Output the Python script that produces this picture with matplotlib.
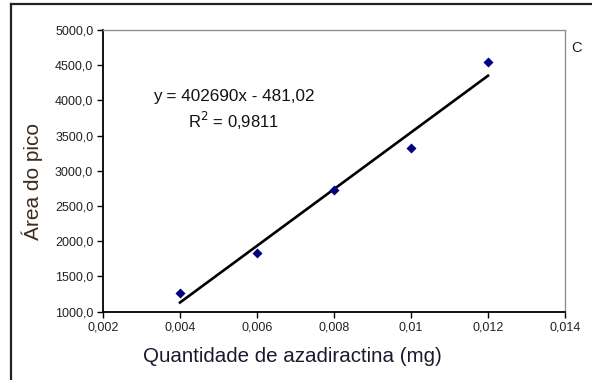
import matplotlib
matplotlib.use("Agg")
import matplotlib.pyplot as plt
import numpy as np
from matplotlib.lines import Line2D

plt.rcParams['font.family'] = ['Liberation Sans', 'DejaVu Sans']

x_vals = [0.004, 0.006, 0.008, 0.010, 0.012]
y_vals = [1265, 1835, 2735, 3320, 4548]
x_ticks = [0.002, 0.004, 0.006, 0.008, 0.010, 0.012, 0.014]
x_tick_labels = ['0,002', '0,004', '0,006', '0,008', '0,01', '0,012', '0,014']
y_ticks = [1000, 1500, 2000, 2500, 3000, 3500, 4000, 4500, 5000]
y_tick_labels = ['1000,0', '1500,0', '2000,0', '2500,0', '3000,0', '3500,0', '4000,0', '4500,0', '5000,0']

fig = plt.figure(figsize=(5.92, 3.80), dpi=100)
ax = fig.add_axes([103/592, 1-311.7/380, (565-103)/592, (311.7-30)/380])

slope, intercept = np.polyfit(x_vals, y_vals, 1)
xs = np.array([x_vals[0], x_vals[-1]])
ax.plot(xs, slope*xs + intercept, color='black', lw=1.9, zorder=2)
ax.scatter(x_vals, y_vals, marker='D', s=26, color='#000080', zorder=3, linewidths=0)

ax.set_xlim(0.002, 0.014)
ax.set_ylim(1000, 5000)
ax.set_xticks(x_ticks)
ax.set_xticklabels(x_tick_labels)
ax.set_yticks(y_ticks)
ax.set_yticklabels(y_tick_labels)
ax.tick_params(direction='out', length=4, width=1, labelsize=9, colors='black', pad=3)
for lab in ax.get_xticklabels() + ax.get_yticklabels():
    lab.set_color('#222222')

for s in ['top', 'right']:
    ax.spines[s].set_color('#909090')
    ax.spines[s].set_linewidth(1)
for s in ['left', 'bottom']:
    ax.spines[s].set_color('black')
    ax.spines[s].set_linewidth(1.3)

fig.text(234/592, 1-97/380, 'y = 402690x - 481,02', ha='center', va='center', fontsize=12.3, color='#111111')
fig.text(234/592, 1-121/380, 'R$^2$ = 0,9811', ha='center', va='center', fontsize=12, color='#111111')
fig.text(577/592, 1-48/380, 'C', ha='center', va='center', fontsize=10.5, color='#222222')

fig.text(292/592, 1-357/380, 'Quantidade de azadiractina (mg)', ha='center', va='center',
         fontsize=14.8, color='#1a1a2e')
fig.text(32/592, 1-182/380, 'Área do pico', ha='center', va='center', rotation=90,
         fontsize=15, color='#3b2a1e')

fig.add_artist(Line2D([11/592, 1], [1-4/380, 1-4/380], transform=fig.transFigure, color='#222222', lw=1.6))
fig.add_artist(Line2D([11/592, 11/592], [1-4/380, 0], transform=fig.transFigure, color='#222222', lw=1.6))

fig.savefig('out.png', dpi=100)
